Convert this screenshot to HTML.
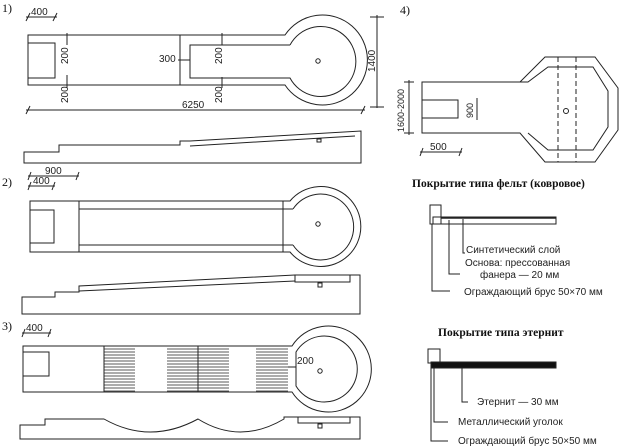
<!DOCTYPE html>
<html><head><meta charset="utf-8"><style>
html,body{margin:0;padding:0;background:#fff}
svg{display:block}
text{font-family:"Liberation Sans","DejaVu Sans",sans-serif;font-size:10px;fill:#222}
.s{font-family:"Liberation Serif",serif;font-size:12px;fill:#111}
.b{font-family:"Liberation Serif",serif;font-weight:bold;font-size:11.5px;fill:#111}
</style></head><body>
<svg width="624" height="448" viewBox="0 0 624 448" xmlns="http://www.w3.org/2000/svg" fill="none" stroke="#222" stroke-width="1">
<!-- Fig 1 -->
<text class="s" x="2" y="12" stroke="none">1)</text>
<line x1="26" y1="17" x2="57" y2="17"/><path d="M26 21 L30 13 M53 21 L57 13"/><text x="31" y="15" stroke="none">400</text>
<path d="M28 35 H285 A45 45 0 1 1 285 85 H28 Z"/>
<path d="M28 43 H55 V78 H28"/>
<line x1="180" y1="35" x2="180" y2="85"/>
<path d="M290 45 H190 V78 H290 A35 35 0 1 0 290 45"/>
<circle cx="318" cy="61" r="2.2"/>
<line x1="67" y1="33" x2="67" y2="45"/><line x1="67" y1="75" x2="67" y2="88"/>
<text x="0" y="0" transform="translate(68,64) rotate(-90)" stroke="none">200</text>
<text x="0" y="0" transform="translate(68,103) rotate(-90)" stroke="none">200</text>
<line x1="178" y1="60" x2="190" y2="60"/><text x="159" y="62" stroke="none">300</text>
<line x1="222" y1="33" x2="222" y2="45"/><line x1="222" y1="77" x2="222" y2="88"/>
<text x="0" y="0" transform="translate(222,64) rotate(-90)" stroke="none">200</text>
<text x="0" y="0" transform="translate(222,103) rotate(-90)" stroke="none">200</text>
<line x1="26" y1="110" x2="365" y2="110"/><path d="M26 114 L30 106 M361 114 L365 106"/><text x="182" y="108" stroke="none">6250</text>
<line x1="377" y1="15" x2="377" y2="108"/><line x1="370" y1="107" x2="384" y2="107"/><line x1="370" y1="17" x2="384" y2="17"/>
<text x="0" y="0" transform="translate(375,72) rotate(-90)" stroke="none">1400</text>
<path d="M24 152 H59 V145 H180 V141 H190 L361 131 V163 H24 Z"/>
<line x1="190" y1="146" x2="355" y2="136"/>
<rect x="317" y="139" width="4" height="3"/>
<!-- Fig 2 -->
<text class="s" x="2" y="186" stroke="none">2)</text>
<line x1="28" y1="176" x2="79" y2="176"/><path d="M28 180 L31 172 M76 180 L79 172"/><text x="45" y="174" stroke="none">900</text>
<line x1="28" y1="186" x2="55" y2="186"/><path d="M28 190 L31 182 M52 190 L55 182"/><text x="33" y="184" stroke="none">400</text>
<path d="M30 201 H290 A40 40 0 1 1 290 252 H30 Z"/>
<path d="M30 210 H54 V243 H30"/>
<line x1="79" y1="201" x2="79" y2="252"/>
<line x1="79" y1="209" x2="293" y2="209"/><line x1="79" y1="245" x2="293" y2="245"/>
<line x1="283" y1="201" x2="283" y2="252"/>
<path d="M293 209 A33 33 0 1 1 293 245"/>
<circle cx="318" cy="224" r="2.2"/>
<path d="M22 297 H55 V292 H79 V286 L295 275 H360 V314 H22 Z"/>
<line x1="79" y1="291" x2="295" y2="281"/>
<rect x="295" y="275" width="55" height="7"/>
<rect x="318" y="283" width="4" height="4"/>
<!-- Fig 3 -->
<text class="s" x="2" y="330" stroke="none">3)</text>
<line x1="22" y1="333" x2="51" y2="333"/><path d="M22 337 L25 329 M48 337 L51 329"/><text x="26" y="331" stroke="none">400</text>
<path d="M23 346 H292 A43 43 0 1 1 292 392 H23 Z"/>
<path d="M23 352 H49 V376 H23"/>
<path d="M296 352 A33 33 0 1 1 296 386 Z"/>
<circle cx="320" cy="371" r="2.2"/>
<g stroke-width="0.8">
<path d="M104 349 H135 M104 352 H135 M104 355 H135 M104 358 H135 M104 361 H135 M104 364 H135 M104 367 H135 M104 370 H135 M104 373 H135 M104 376 H135 M104 379 H135 M104 382 H135 M104 385 H135 M104 388 H135 M104 391 H135"/>
<path d="M167 349 H229 M167 352 H229 M167 355 H229 M167 358 H229 M167 361 H229 M167 364 H229 M167 367 H229 M167 370 H229 M167 373 H229 M167 376 H229 M167 379 H229 M167 382 H229 M167 385 H229 M167 388 H229 M167 391 H229"/>
<path d="M256 349 H288 M256 352 H288 M256 355 H288 M256 358 H288 M256 361 H288 M256 364 H288 M256 367 H288 M256 370 H288 M256 373 H288 M256 376 H288 M256 379 H288 M256 382 H288 M256 385 H288 M256 388 H288 M256 391 H288"/>
</g>
<line x1="104" y1="346" x2="104" y2="392"/>
<line x1="198" y1="346" x2="198" y2="392"/>
<line x1="288" y1="367" x2="296" y2="367"/><text x="297" y="364" stroke="none">200</text>
<path d="M20 425 H45 V419 H104 Q150 445 198 419 Q240 445 284 419 V417 H360 V439 H20 Z"/>
<rect x="298" y="417" width="52" height="6"/>
<rect x="318" y="424" width="4" height="4"/>
<!-- Fig 4 -->
<text class="s" x="400" y="14" stroke="none">4)</text>
<path d="M422 82 H520 L545 57 H595 L618 88 V130 L595 162 H545 L520 133 H422 Z"/>
<path d="M422 100 H458 V118 H422"/>
<path d="M520 82 H528 L548 67 H593 L608 91 V127 L593 150 H548 L528 133"/>
<line x1="558" y1="57" x2="558" y2="162" stroke-dasharray="5,3"/>
<line x1="576" y1="57" x2="576" y2="162" stroke-dasharray="5,3"/>
<circle cx="566" cy="111" r="2.5"/>
<line x1="409" y1="80" x2="409" y2="135"/><line x1="404" y1="82" x2="414" y2="82"/><line x1="404" y1="133" x2="414" y2="133"/>
<text x="0" y="0" transform="translate(404,132) rotate(-90)" stroke="none" style="font-size:9px">1600-2000</text>
<line x1="477" y1="98" x2="477" y2="120"/>
<text x="0" y="0" transform="translate(473,118) rotate(-90)" stroke="none" style="font-size:9px">900</text>
<line x1="420" y1="152" x2="462" y2="152"/><path d="M420 156 L423 148 M459 156 L462 148"/><text x="430" y="150" stroke="none">500</text>
<!-- Felt -->
<text class="b" x="412" y="187" stroke="none">Покрытие типа фельт (ковровое)</text>
<rect x="430" y="205" width="11" height="19"/>
<rect x="433" y="217" width="123" height="7"/>
<line x1="441" y1="218" x2="556" y2="218" stroke-width="1.6"/>
<path d="M463 219 V253 H465"/><text x="466" y="253" stroke="none">Синтетический слой</text>
<text x="465" y="266" stroke="none">Основа: прессованная</text>
<path d="M449 220 V274 H460"/><text x="480" y="278" stroke="none">фанера — 20 мм</text>
<path d="M432 224 V291 H450"/><text x="464" y="295" stroke="none">Ограждающий брус 50×70 мм</text>
<!-- Eternit -->
<text class="b" x="438" y="336" stroke="none">Покрытие типа этернит</text>
<rect x="428" y="349" width="12" height="14"/>
<rect x="431" y="362" width="125" height="6" fill="#111"/>
<path d="M462 368 V402 H468"/><text x="477" y="405" stroke="none">Этернит — 30 мм</text>
<path d="M434 368 V422 H448"/><text x="458" y="425" stroke="none">Металлический уголок</text>
<path d="M431 368 V441 H448"/><text x="458" y="444" stroke="none">Ограждающий брус 50×50 мм</text>
</svg>
</body></html>
